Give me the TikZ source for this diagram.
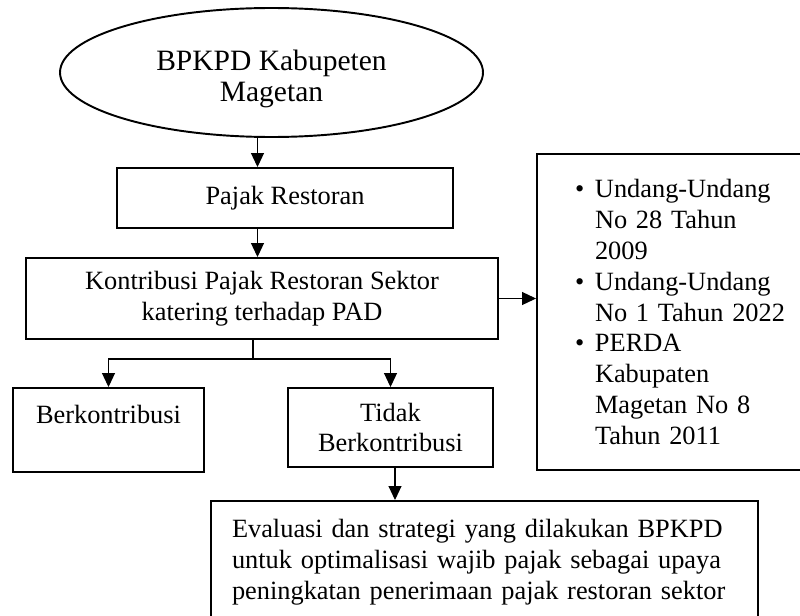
\documentclass[tikz,border=0pt]{standalone}
\usepackage{fontspec}
\setmainfont{Liberation Serif}
\usetikzlibrary{arrows.meta,shapes.geometric}

\newcommand{\blt}{\makebox[0.4cm][l]{\textbullet}}
\newcommand{\ind}{\hspace*{0.4cm}}

\begin{document}
\begin{tikzpicture}[
    font=\fontsize{15}{17.6}\selectfont,
    box/.style={draw, line width=1.1pt, align=center, inner sep=0pt},
    line/.style={line width=0.6pt},
    >={Triangle[width=0.26cm,length=0.28cm]}
]
    \useasboundingbox (0,0) rectangle (16,-12.3);
    \clip (0,0) rectangle (16,-12.3);

    % main chain
    \node [box, ellipse, minimum width=8.46cm, minimum height=2.58cm, font=\fontsize{16.8}{17.6}\selectfont, text height=1.3cm] (bpkpd) at (5.43,-1.45) {BPKPD Kabupeten\\Magetan};
    \node [box, minimum width=6.72cm, minimum height=1.2cm] (pajak) at (5.7,-3.96) {Pajak Restoran};
    \node [box, minimum width=9.44cm, minimum height=1.62cm] (kontrib) at (5.24,-5.97) {Kontribusi Pajak Restoran Sektor\\katering terhadap PAD};

    % legal basis
    \node [box, minimum height=6.32cm, text width=4.3cm, inner xsep=0.76cm, align=left] (dasar) at (13.65,-6.24)
        {\blt Undang-Undang\\\ind No 28 Tahun\\\ind 2009\\
         \blt Undang-Undang\\\ind No 1 Tahun 2022\\
         \blt PERDA\\\ind Kabupaten\\\ind Magetan No 8\\\ind Tahun 2011};

    % result
    \node [box, minimum width=3.82cm, minimum height=1.68cm] (berk) at (2.17,-8.6) {Berkontribusi\\\mbox{}};
    \node [box, minimum width=4.1cm, minimum height=1.58cm] (tidak) at (7.81,-8.55) {Tidak\\Berkontribusi};
    \node [box, anchor=north, text width=10.1cm, inner xsep=0.42cm, inner ysep=0.36cm, text depth=2cm, align=left] (eval) at (9.69,-10)
        {Evaluasi dan strategi yang dilakukan BPKPD\\untuk optimalisasi wajib pajak sebagai upaya\\peningkatan penerimaan pajak restoran sektor};

    % connector points
    \coordinate (a1) at (5.15,0);
    \coordinate (a2) at (7.9,0);
    \coordinate (cab) at (5.06,-7.18);

    \draw [line,->] (bpkpd.south -| a1) -- (pajak.north -| a1);
    \draw [line,->] (pajak.south -| a1) -- (kontrib.north -| a1);
    \draw [line,->] (kontrib.east) -- (dasar.west |- kontrib.east);

    \draw [line] (kontrib.south -| cab) -- (cab);
    \draw [line,->] (cab) -| (berk.north);
    \draw [line,->] (cab) -| (tidak.north);
    \draw [line,->] (tidak.south -| a2) -- (eval.north -| a2);

\end{tikzpicture}
\end{document}
